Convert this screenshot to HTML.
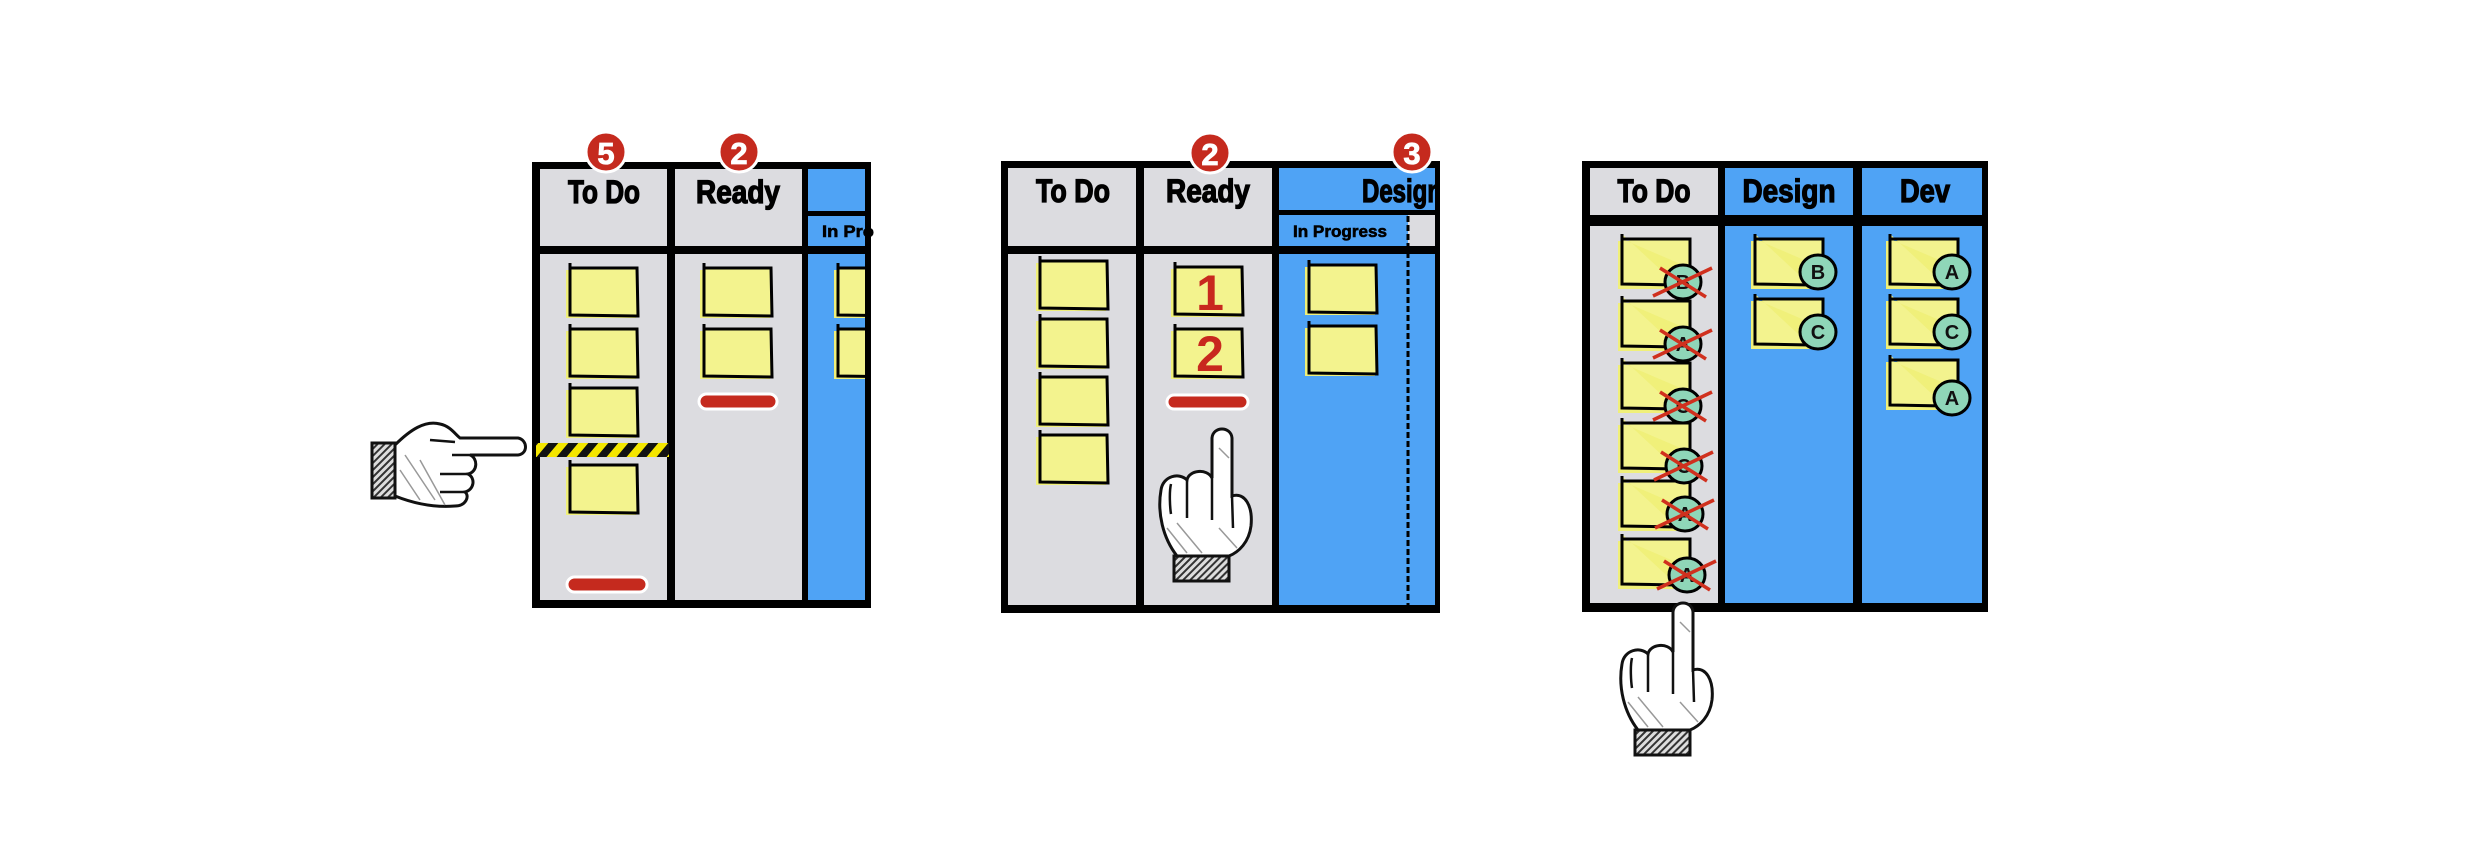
<!DOCTYPE html>
<html><head><meta charset="utf-8"><style>
html,body{margin:0;padding:0;background:#fff;}
svg{display:block;}
text{font-family:"Liberation Sans",sans-serif;font-weight:bold;}
.h{stroke:#000;stroke-width:1.3;}
</style></head><body>
<svg width="2480" height="861" viewBox="0 0 2480 861" xmlns="http://www.w3.org/2000/svg">
<defs>
<pattern id="haz" width="20" height="14" patternUnits="userSpaceOnUse" patternTransform="skewX(-40)">
<rect width="20" height="14" fill="#f4e600"/><rect width="10" height="14" fill="#111"/>
</pattern>
<pattern id="hatch" width="5" height="5" patternUnits="userSpaceOnUse" patternTransform="rotate(45)">
<rect width="5" height="5" fill="#ddd"/><rect width="2" height="5" fill="#333"/>
</pattern>
<g id="st">
<rect x="-4" y="3" width="70" height="48" fill="#f0f07a"/>
<path d="M0,-4 L0,48 L68,49 L67,1 L0,1" fill="#f3f38e" stroke="#000" stroke-width="3"/>
</g>
<g id="st3">
<rect x="-4" y="3" width="70" height="48" fill="#f0f07a"/>
<path d="M0,-4 L0,46 L55,47 M0,1 L68,1 L68,30" fill="#f3f38e" stroke="#000" stroke-width="3"/>
</g>
<g id="uphand">
<path d="M20,128 C6,110 0,85 4,62 C6,48 22,44 30,52 C32,42 50,40 55,50 L55,10 C56,-2 74,-2 75,10 L75,68 C88,64 96,78 94,98 C92,114 82,124 72,128 Z" fill="#fff" stroke="#111" stroke-width="3"/>
<path d="M30,52 L30,90 M55,50 L55,92 M14,56 C12,64 13,80 14,86 M75,68 L76,100" fill="none" stroke="#111" stroke-width="2.5"/>
<path d="M10,100 L30,125 M20,95 L45,125 M62,100 L80,120 M62,20 L72,30" stroke="#999" stroke-width="1.5"/>
<rect x="17" y="128" width="55" height="25" fill="url(#hatch)" stroke="#111" stroke-width="3"/>
</g>
</defs>

<!-- BOARD 1 -->
<rect x="532" y="162" width="339" height="446" fill="#000"/>
<rect x="540" y="169" width="127" height="77" fill="#dcdce0"/>
<rect x="540" y="254" width="127" height="346" fill="#dcdce0"/>
<rect x="675" y="169" width="127" height="77" fill="#dcdce0"/>
<rect x="675" y="254" width="127" height="346" fill="#dcdce0"/>
<rect x="808" y="169" width="57" height="42" fill="#4fa3f5"/>
<rect x="808" y="216" width="57" height="30" fill="#4fa3f5"/>
<rect x="808" y="254" width="57" height="346" fill="#4fa3f5"/>
<text class="h" x="604" y="203" font-size="32" text-anchor="middle" textLength="72" lengthAdjust="spacingAndGlyphs">To Do</text>
<text class="h" x="738" y="203" font-size="32" text-anchor="middle" textLength="84" lengthAdjust="spacingAndGlyphs">Ready</text>
<text class="h" x="822" y="237" font-size="17" textLength="52" lengthAdjust="spacingAndGlyphs" style="stroke-width:0.6">In Pro</text>
<rect x="865" y="162" width="6" height="446" fill="#000"/>
<circle cx="606" cy="152" r="20" fill="#c52a1e" stroke="#fff" stroke-width="3"/>
<text x="606" y="164" font-size="31" fill="#fff" text-anchor="middle" stroke="#fff" stroke-width="0.8">5</text>
<circle cx="739" cy="152" r="20" fill="#c52a1e" stroke="#fff" stroke-width="3"/>
<text x="739" y="164" font-size="31" fill="#fff" text-anchor="middle" stroke="#fff" stroke-width="0.8">2</text>
<use href="#st" x="570" y="267"/>
<use href="#st" x="570" y="328"/>
<use href="#st" x="570" y="387"/>
<use href="#st" x="570" y="464"/>
<use href="#st" x="704" y="267"/>
<use href="#st" x="704" y="328"/>
<svg x="808" y="254" width="57" height="200"><use href="#st" x="30" y="13"/><use href="#st" x="30" y="74"/></svg>
<rect x="699" y="394" width="78" height="15" rx="7.5" fill="#c52a1e" stroke="#fff" stroke-width="3"/>
<rect x="567" y="577" width="80" height="15" rx="7.5" fill="#c52a1e" stroke="#fff" stroke-width="3"/>
<rect x="536" y="443" width="133" height="14" fill="url(#haz)"/>
<path d="M395,445 C410,430 425,420 440,424 C450,426 455,434 460,438 L518,438 C528,440 528,454 518,455 L470,455 C478,458 478,472 468,474 C476,478 474,490 465,492 C470,496 466,506 455,506 C430,508 410,502 395,496 Z" fill="#fff" stroke="#111" stroke-width="3"/>
<path d="M440,474 L468,474 M440,492 L465,492 M452,455 L470,455 M430,440 L455,442" fill="none" stroke="#111" stroke-width="2.5"/>
<path d="M400,470 L420,500 M405,455 L435,500 M420,460 L445,505" stroke="#999" stroke-width="1.5"/>
<rect x="372" y="443" width="23" height="55" fill="url(#hatch)" stroke="#111" stroke-width="3"/>

<!-- BOARD 2 -->
<rect x="1001" y="161" width="439" height="452" fill="#000"/>
<rect x="1008" y="168" width="128" height="78" fill="#dcdce0"/>
<rect x="1008" y="254" width="128" height="351" fill="#dcdce0"/>
<rect x="1144" y="168" width="128" height="78" fill="#dcdce0"/>
<rect x="1144" y="254" width="128" height="351" fill="#dcdce0"/>
<rect x="1279" y="168" width="156" height="42" fill="#4fa3f5"/>
<rect x="1279" y="215" width="129" height="31" fill="#4fa3f5"/>
<rect x="1408" y="215" width="27" height="31" fill="#dcdce0"/>
<rect x="1279" y="254" width="156" height="351" fill="#4fa3f5"/>
<line x1="1408" y1="216" x2="1408" y2="605" stroke="#000" stroke-width="3" stroke-dasharray="6,3"/>
<text class="h" x="1073" y="202" font-size="32" text-anchor="middle" textLength="74" lengthAdjust="spacingAndGlyphs">To Do</text>
<text class="h" x="1208" y="202" font-size="32" text-anchor="middle" textLength="84" lengthAdjust="spacingAndGlyphs">Ready</text>
<svg x="1279" y="168" width="156" height="44"><text class="h" x="83" y="34" font-size="32" textLength="80" lengthAdjust="spacingAndGlyphs">Design</text></svg>
<text class="h" x="1293" y="237" font-size="17" textLength="94" lengthAdjust="spacingAndGlyphs" style="stroke-width:0.6">In Progress</text>
<circle cx="1210" cy="153" r="20" fill="#c52a1e" stroke="#fff" stroke-width="3"/>
<text x="1210" y="165" font-size="31" fill="#fff" text-anchor="middle" stroke="#fff" stroke-width="0.8">2</text>
<circle cx="1412" cy="152" r="20" fill="#c52a1e" stroke="#fff" stroke-width="3"/>
<text x="1412" y="164" font-size="31" fill="#fff" text-anchor="middle" stroke="#fff" stroke-width="0.8">3</text>
<use href="#st" x="1040" y="260"/>
<use href="#st" x="1040" y="318"/>
<use href="#st" x="1040" y="376"/>
<use href="#st" x="1040" y="434"/>
<use href="#st" x="1175" y="266"/>
<use href="#st" x="1175" y="328"/>
<text x="1210" y="310" font-size="50" fill="#c8281e" text-anchor="middle">1</text>
<text x="1210" y="371" font-size="50" fill="#c8281e" text-anchor="middle">2</text>
<use href="#st" x="1309" y="264"/>
<use href="#st" x="1309" y="325"/>
<rect x="1167" y="395" width="81" height="14" rx="7" fill="#c52a1e" stroke="#fff" stroke-width="3"/>
<use href="#uphand" x="1157" y="428"/>

<!-- BOARD 3 -->
<rect x="1582" y="161" width="406" height="451" fill="#000"/>
<rect x="1590" y="168" width="128" height="47" fill="#dcdce0"/>
<rect x="1590" y="226" width="128" height="377" fill="#dcdce0"/>
<rect x="1725" y="168" width="128" height="47" fill="#4fa3f5"/>
<rect x="1725" y="226" width="128" height="377" fill="#4fa3f5"/>
<rect x="1862" y="168" width="120" height="47" fill="#4fa3f5"/>
<rect x="1862" y="226" width="120" height="377" fill="#4fa3f5"/>
<text class="h" x="1654" y="202" font-size="32" text-anchor="middle" textLength="73" lengthAdjust="spacingAndGlyphs">To Do</text>
<text class="h" x="1789" y="202" font-size="32" text-anchor="middle" textLength="93" lengthAdjust="spacingAndGlyphs">Design</text>
<text class="h" x="1925" y="202" font-size="32" text-anchor="middle" textLength="50" lengthAdjust="spacingAndGlyphs">Dev</text>
<use href="#st3" x="1622" y="238"/><use href="#st3" x="1622" y="300"/><use href="#st3" x="1622" y="362"/>
<use href="#st3" x="1622" y="422"/><use href="#st3" x="1622" y="480"/><use href="#st3" x="1622" y="538"/>
<use href="#st3" x="1755" y="238"/><use href="#st3" x="1755" y="298"/>
<use href="#st3" x="1890" y="238"/><use href="#st3" x="1890" y="298"/><use href="#st3" x="1890" y="359"/>
<g stroke="#000" stroke-width="3" fill="#8fd6b8">
<ellipse cx="1683" cy="282" rx="18" ry="17"/><ellipse cx="1683" cy="344" rx="18" ry="17"/>
<ellipse cx="1683" cy="406" rx="18" ry="17"/><ellipse cx="1684" cy="466" rx="18" ry="17"/>
<ellipse cx="1685" cy="514" rx="18" ry="17"/><ellipse cx="1687" cy="575" rx="18" ry="17"/>
<ellipse cx="1818" cy="272" rx="18" ry="17"/><ellipse cx="1818" cy="332" rx="18" ry="17"/>
<ellipse cx="1952" cy="272" rx="18" ry="17"/><ellipse cx="1952" cy="332" rx="18" ry="17"/>
<ellipse cx="1952" cy="398" rx="18" ry="17"/>
</g>
<g font-size="20" text-anchor="middle" fill="#111">
<text x="1683" y="289">B</text><text x="1683" y="351">A</text><text x="1683" y="413">C</text>
<text x="1684" y="473">C</text><text x="1685" y="521">A</text><text x="1687" y="582">A</text>
<text x="1818" y="279">B</text><text x="1818" y="339">C</text>
<text x="1952" y="279">A</text><text x="1952" y="339">C</text><text x="1952" y="405">A</text>
</g>
<g stroke="#d0301e" stroke-width="3.5" fill="none">
<path d="M1653,296 L1712,268 M1660,268 L1706,297"/>
<path d="M1653,358 L1712,330 M1660,330 L1706,359"/>
<path d="M1653,420 L1712,392 M1660,392 L1706,421"/>
<path d="M1654,480 L1713,452 M1661,452 L1707,481"/>
<path d="M1655,528 L1714,500 M1662,500 L1708,529"/>
<path d="M1657,589 L1716,561 M1664,561 L1710,590"/>
</g>
<use href="#uphand" x="1618" y="602"/>
</svg>
</body></html>
